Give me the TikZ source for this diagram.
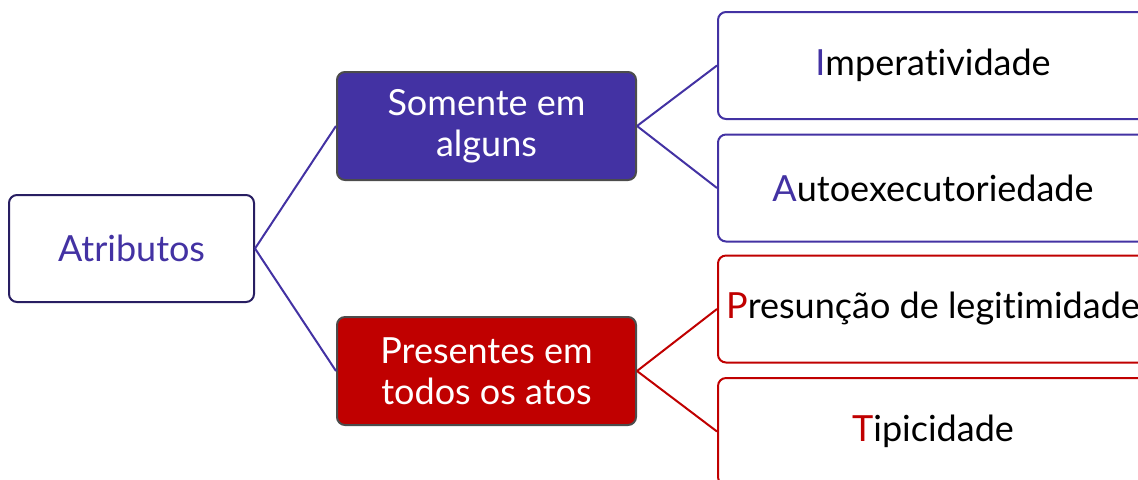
\documentclass[tikz,border=0pt]{standalone}
\usepackage{fontspec}
\setmainfont{Lato}[RawFeature=-liga]
\usepackage{tikz}
\usetikzlibrary{shapes,arrows, positioning}
\definecolor{roxo}{RGB}{67,50,163}
\definecolor{verm}{RGB}{192,0,0}
\tikzstyle{bnode} = [rectangle, rounded corners=4pt, draw, line width=1pt, align=center, inner sep=2pt, font=\fontsize{18}{20.5}\selectfont]
\tikzstyle{rnode} = [bnode, draw=roxo!60!black, fill=white, text=roxo, minimum width=122.5pt, minimum height=53.5pt]
\tikzstyle{mnode} = [bnode, draw=black!70, text=white, minimum width=149.5pt, minimum height=54pt]
\tikzstyle{lnode} = [bnode, fill=white, text=black, minimum width=215pt, minimum height=53.5pt]
\tikzstyle{line} = [draw, line width=1pt]

\begin{document}
\begin{tikzpicture}[x=0.5pt, y=-0.5pt]
			\useasboundingbox (0,0) rectangle (1138,479);
			\node [rnode] (1) at (131.5, 248.5) {Atributos};
			\node [mnode, fill=roxo] (2) at (486.5, 126) {Somente em\\alguns};
			\node [mnode, fill=verm] (3) at (486.5, 371) {Presentes em\\todos os atos};
			\node [lnode, draw=roxo] (4) at (933, 65.5) {\textcolor{roxo}{I}mperatividade};
			\node [lnode, draw=roxo] (5) at (933, 188) {\textcolor{roxo}{A}utoexecutoriedade};
			\node [lnode, draw=verm] (6) at (933, 309) {\textcolor{verm}{P}resunção de legitimidade};
			\node [lnode, draw=verm] (7) at (933, 431.5) {\textcolor{verm}{T}ipicidade};
			
			\path [line, roxo] (1.east) -- (2.west);
			\path [line, roxo] (1.east) -- (3.west);
			\path [line, roxo] (2.east) -- (4.west);
			\path [line, roxo] (2.east) -- (5.west);
			\path [line, verm] (3.east) -- (6.west);
			\path [line, verm] (3.east) -- (7.west);
		\end{tikzpicture}
\end{document}
